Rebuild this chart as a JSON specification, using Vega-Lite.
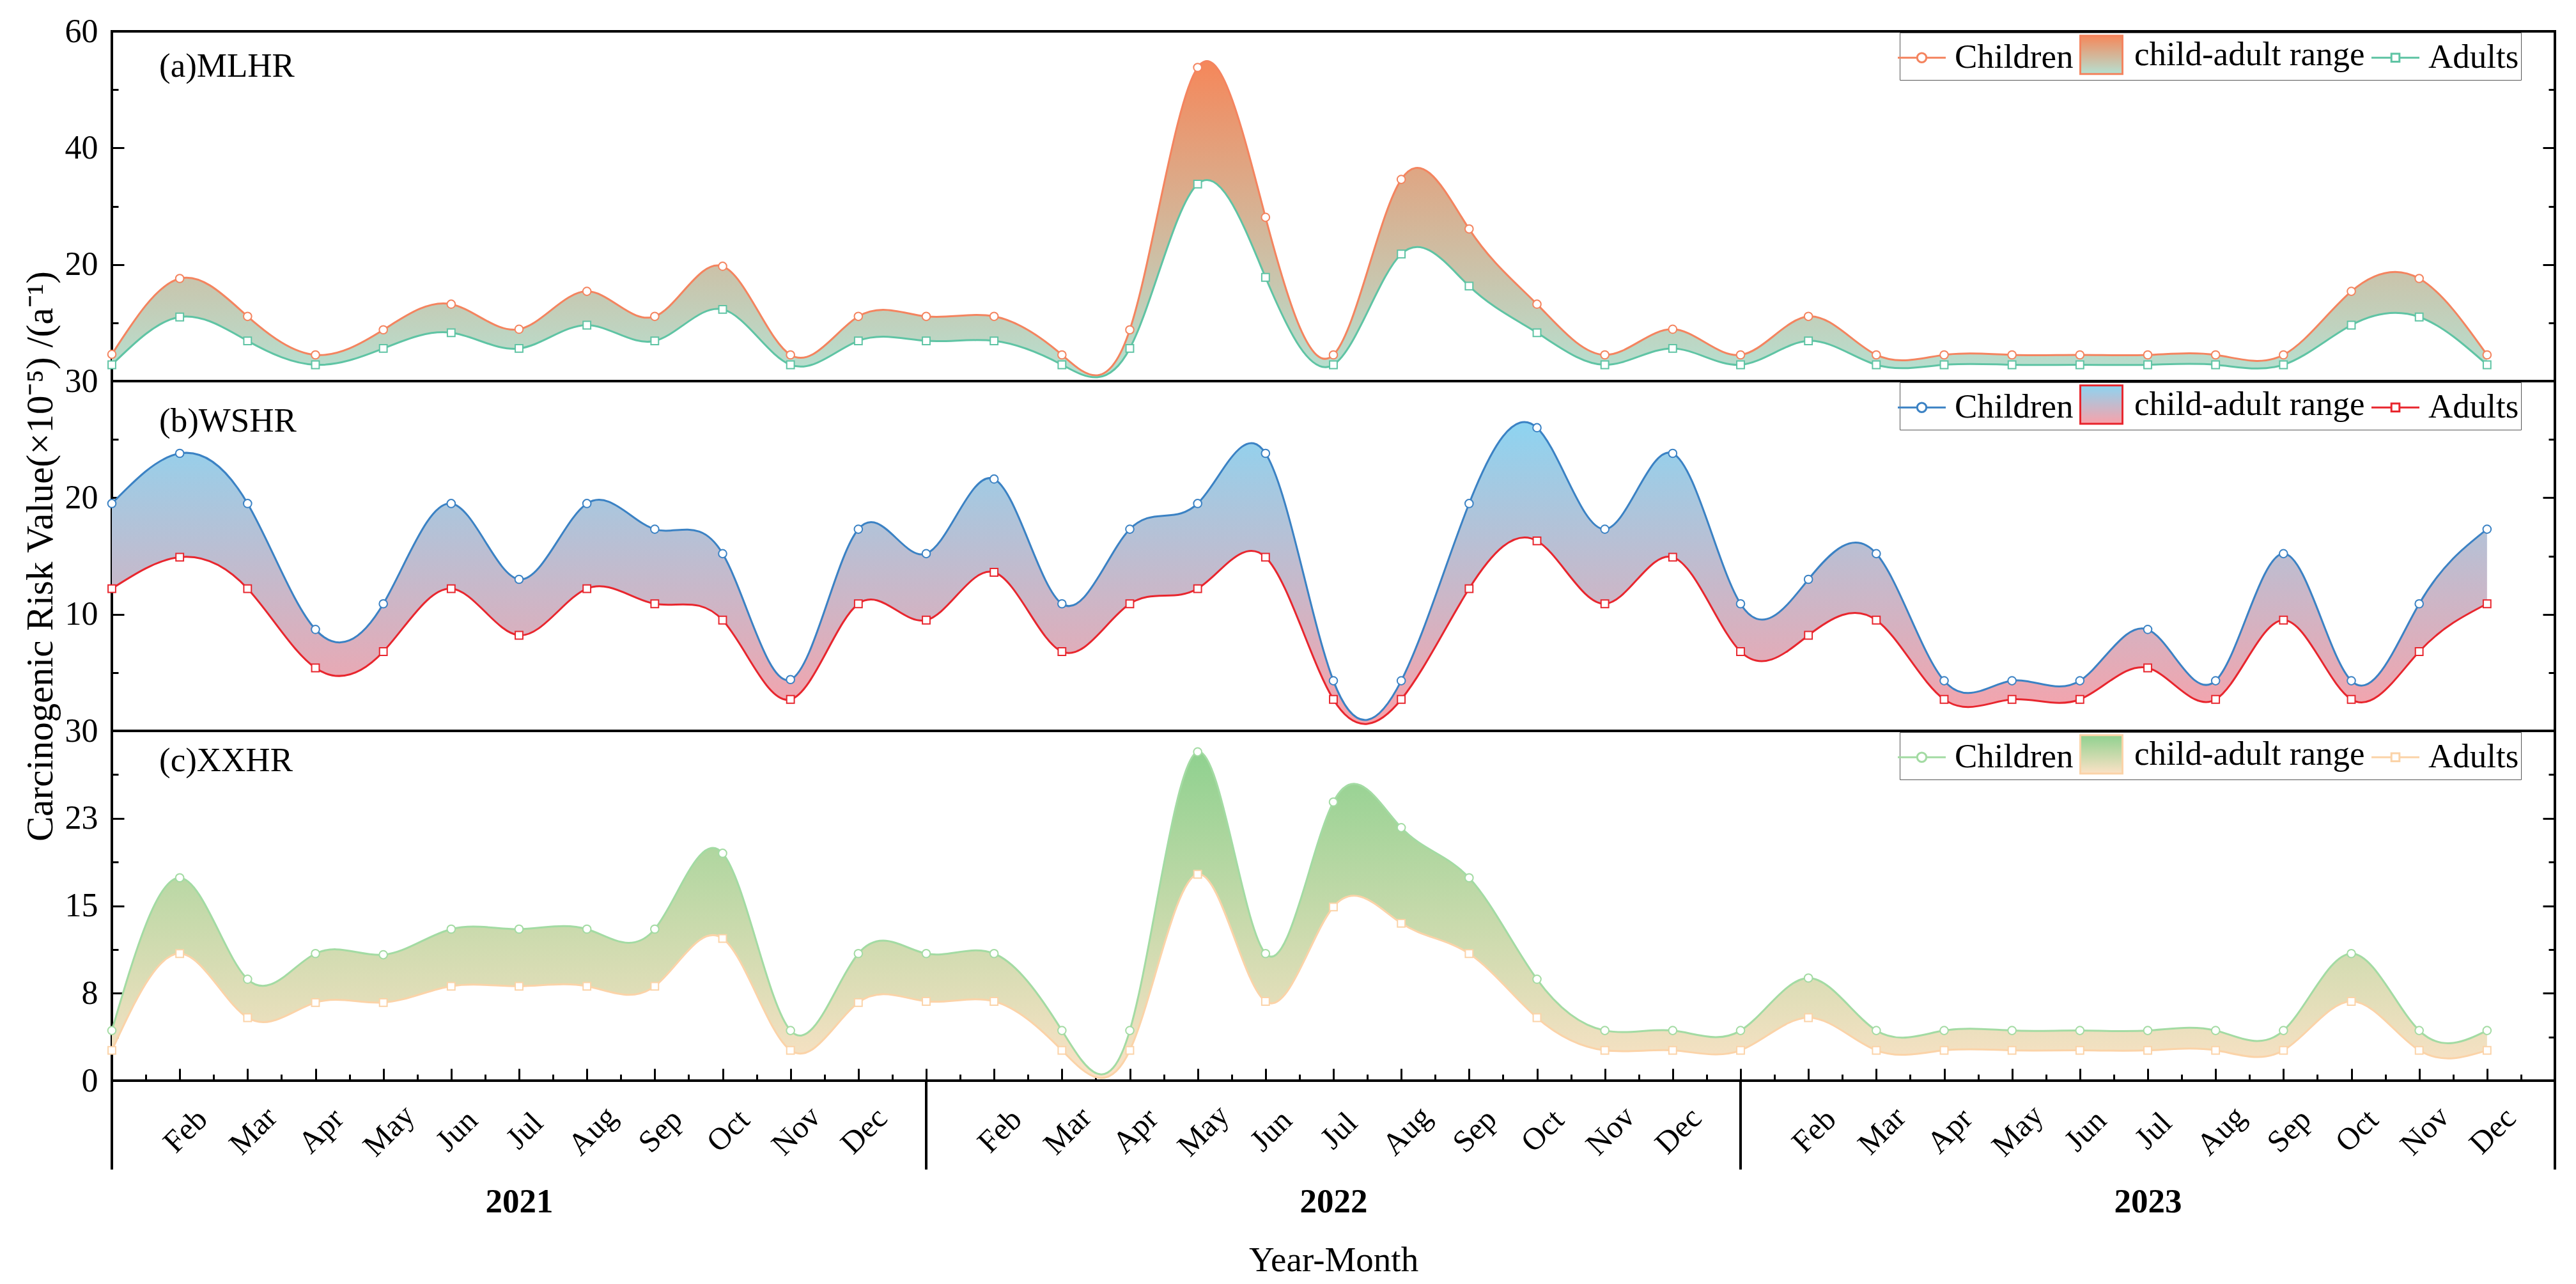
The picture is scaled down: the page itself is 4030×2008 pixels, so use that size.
{
  "$schema": "https://vega.github.io/schema/vega-lite/v6.json",
  "padding": {"left": 31, "top": 21, "right": 26, "bottom": 5},
  "spacing": 0,
  "bounds": "flush",
  "datasets": {
    "mlhr": [
      {"ym": "2021-01", "Children": 4.6, "Adults": 2.8},
      {"ym": "2021-02", "Children": 17.6, "Adults": 11.0},
      {"ym": "2021-03", "Children": 11.1, "Adults": 6.9},
      {"ym": "2021-04", "Children": 4.5, "Adults": 2.8},
      {"ym": "2021-05", "Children": 8.8, "Adults": 5.6},
      {"ym": "2021-06", "Children": 13.2, "Adults": 8.3},
      {"ym": "2021-07", "Children": 8.9, "Adults": 5.6},
      {"ym": "2021-08", "Children": 15.4, "Adults": 9.6},
      {"ym": "2021-09", "Children": 11.1, "Adults": 6.9},
      {"ym": "2021-10", "Children": 19.7, "Adults": 12.3},
      {"ym": "2021-11", "Children": 4.5, "Adults": 2.8},
      {"ym": "2021-12", "Children": 11.1, "Adults": 6.9},
      {"ym": "2022-01", "Children": 11.1, "Adults": 6.9},
      {"ym": "2022-02", "Children": 11.1, "Adults": 6.9},
      {"ym": "2022-03", "Children": 4.5, "Adults": 2.8},
      {"ym": "2022-04", "Children": 8.8, "Adults": 5.6},
      {"ym": "2022-05", "Children": 53.8, "Adults": 33.8},
      {"ym": "2022-06", "Children": 28.1, "Adults": 17.8},
      {"ym": "2022-07", "Children": 4.5, "Adults": 2.8},
      {"ym": "2022-08", "Children": 34.6, "Adults": 21.8},
      {"ym": "2022-09", "Children": 26.1, "Adults": 16.3},
      {"ym": "2022-10", "Children": 13.2, "Adults": 8.3},
      {"ym": "2022-11", "Children": 4.5, "Adults": 2.8},
      {"ym": "2022-12", "Children": 8.9, "Adults": 5.6},
      {"ym": "2023-01", "Children": 4.5, "Adults": 2.8},
      {"ym": "2023-02", "Children": 11.1, "Adults": 6.9},
      {"ym": "2023-03", "Children": 4.5, "Adults": 2.8},
      {"ym": "2023-04", "Children": 4.5, "Adults": 2.8},
      {"ym": "2023-05", "Children": 4.5, "Adults": 2.8},
      {"ym": "2023-06", "Children": 4.5, "Adults": 2.8},
      {"ym": "2023-07", "Children": 4.5, "Adults": 2.8},
      {"ym": "2023-08", "Children": 4.5, "Adults": 2.8},
      {"ym": "2023-09", "Children": 4.5, "Adults": 2.8},
      {"ym": "2023-10", "Children": 15.4, "Adults": 9.6},
      {"ym": "2023-11", "Children": 17.6, "Adults": 11.0},
      {"ym": "2023-12", "Children": 4.5, "Adults": 2.8}
    ],
    "wshr": [
      {"ym": "2021-01", "Children": 19.5, "Adults": 12.2},
      {"ym": "2021-02", "Children": 23.8, "Adults": 14.9},
      {"ym": "2021-03", "Children": 19.5, "Adults": 12.2},
      {"ym": "2021-04", "Children": 8.7, "Adults": 5.4},
      {"ym": "2021-05", "Children": 10.9, "Adults": 6.8},
      {"ym": "2021-06", "Children": 19.5, "Adults": 12.2},
      {"ym": "2021-07", "Children": 13.0, "Adults": 8.2},
      {"ym": "2021-08", "Children": 19.5, "Adults": 12.2},
      {"ym": "2021-09", "Children": 17.3, "Adults": 10.9},
      {"ym": "2021-10", "Children": 15.2, "Adults": 9.5},
      {"ym": "2021-11", "Children": 4.4, "Adults": 2.7},
      {"ym": "2021-12", "Children": 17.3, "Adults": 10.9},
      {"ym": "2022-01", "Children": 15.2, "Adults": 9.5},
      {"ym": "2022-02", "Children": 21.6, "Adults": 13.6},
      {"ym": "2022-03", "Children": 10.9, "Adults": 6.8},
      {"ym": "2022-04", "Children": 17.3, "Adults": 10.9},
      {"ym": "2022-05", "Children": 19.5, "Adults": 12.2},
      {"ym": "2022-06", "Children": 23.8, "Adults": 14.9},
      {"ym": "2022-07", "Children": 4.3, "Adults": 2.7},
      {"ym": "2022-08", "Children": 4.3, "Adults": 2.7},
      {"ym": "2022-09", "Children": 19.5, "Adults": 12.2},
      {"ym": "2022-10", "Children": 26.0, "Adults": 16.3},
      {"ym": "2022-11", "Children": 17.3, "Adults": 10.9},
      {"ym": "2022-12", "Children": 23.8, "Adults": 14.9},
      {"ym": "2023-01", "Children": 10.9, "Adults": 6.8},
      {"ym": "2023-02", "Children": 13.0, "Adults": 8.2},
      {"ym": "2023-03", "Children": 15.2, "Adults": 9.5},
      {"ym": "2023-04", "Children": 4.3, "Adults": 2.7},
      {"ym": "2023-05", "Children": 4.3, "Adults": 2.7},
      {"ym": "2023-06", "Children": 4.3, "Adults": 2.7},
      {"ym": "2023-07", "Children": 8.7, "Adults": 5.4},
      {"ym": "2023-08", "Children": 4.3, "Adults": 2.7},
      {"ym": "2023-09", "Children": 15.2, "Adults": 9.5},
      {"ym": "2023-10", "Children": 4.3, "Adults": 2.7},
      {"ym": "2023-11", "Children": 10.9, "Adults": 6.8},
      {"ym": "2023-12", "Children": 17.3, "Adults": 10.9}
    ],
    "xxhr": [
      {"ym": "2021-01", "Children": 4.3, "Adults": 2.6},
      {"ym": "2021-02", "Children": 17.4, "Adults": 10.9},
      {"ym": "2021-03", "Children": 8.7, "Adults": 5.4},
      {"ym": "2021-04", "Children": 10.9, "Adults": 6.7},
      {"ym": "2021-05", "Children": 10.8, "Adults": 6.7},
      {"ym": "2021-06", "Children": 13.0, "Adults": 8.1},
      {"ym": "2021-07", "Children": 13.0, "Adults": 8.1},
      {"ym": "2021-08", "Children": 13.0, "Adults": 8.1},
      {"ym": "2021-09", "Children": 13.0, "Adults": 8.1},
      {"ym": "2021-10", "Children": 19.5, "Adults": 12.2},
      {"ym": "2021-11", "Children": 4.3, "Adults": 2.6},
      {"ym": "2021-12", "Children": 10.9, "Adults": 6.7},
      {"ym": "2022-01", "Children": 10.9, "Adults": 6.8},
      {"ym": "2022-02", "Children": 10.9, "Adults": 6.8},
      {"ym": "2022-03", "Children": 4.3, "Adults": 2.6},
      {"ym": "2022-04", "Children": 4.3, "Adults": 2.6},
      {"ym": "2022-05", "Children": 28.2, "Adults": 17.7},
      {"ym": "2022-06", "Children": 10.9, "Adults": 6.8},
      {"ym": "2022-07", "Children": 23.9, "Adults": 14.9},
      {"ym": "2022-08", "Children": 21.7, "Adults": 13.5},
      {"ym": "2022-09", "Children": 17.4, "Adults": 10.9},
      {"ym": "2022-10", "Children": 8.7, "Adults": 5.4},
      {"ym": "2022-11", "Children": 4.3, "Adults": 2.6},
      {"ym": "2022-12", "Children": 4.3, "Adults": 2.6},
      {"ym": "2023-01", "Children": 4.3, "Adults": 2.6},
      {"ym": "2023-02", "Children": 8.8, "Adults": 5.4},
      {"ym": "2023-03", "Children": 4.3, "Adults": 2.6},
      {"ym": "2023-04", "Children": 4.3, "Adults": 2.6},
      {"ym": "2023-05", "Children": 4.3, "Adults": 2.6},
      {"ym": "2023-06", "Children": 4.3, "Adults": 2.6},
      {"ym": "2023-07", "Children": 4.3, "Adults": 2.6},
      {"ym": "2023-08", "Children": 4.3, "Adults": 2.6},
      {"ym": "2023-09", "Children": 4.3, "Adults": 2.6},
      {"ym": "2023-10", "Children": 10.9, "Adults": 6.8},
      {"ym": "2023-11", "Children": 4.3, "Adults": 2.6},
      {"ym": "2023-12", "Children": 4.3, "Adults": 2.6}
    ],
    "years": [
      {"year": 2021},
      {"year": 2022},
      {"year": 2023},
      {"year": 2024}
    ]
  },
  "vconcat": [
    {
      "width": 3822,
      "height": 547,
      "data": {"name": "mlhr"},
      "transform": [
        {"calculate": "(toNumber(slice(datum.ym, 0, 4)) - 2021) * 12 + toNumber(slice(datum.ym, 5, 7)) - 1", "as": "t"}
      ],
      "title": {"text": "(a)MLHR", "anchor": "start", "frame": "group", "orient": "top", "offset": -150, "dx": 74, "baseline": "alphabetic"},
      "encoding": {
        "x": {"field": "t", "type": "quantitative", "scale": {"domain": [0, 36], "nice": false, "zero": false}, "axis": null}
      },
      "layer": [
        {
          "layer": [
            {
              "mark": {"type": "area", "interpolate": "natural",
                "fill": {"gradient": "linear", "x1": 0, "y1": 0, "x2": 0, "y2": 1,
                  "stops": [{"offset": 0, "color": "#F5875A"}, {"offset": 1, "color": "#B5E1D2"}]}},
              "encoding": {
                "y": {"field": "Children", "type": "quantitative", "scale": {"domain": [0, 60], "nice": false},
                  "axis": {"orient": "left", "title": null, "values": [0, 10, 20, 30, 40, 50, 60],
                    "labelExpr": "datum.value % 20 === 0 && datum.value > 0 ? datum.label : ''",
                    "tickSize": {"condition": {"test": "datum.value % 20 === 0", "value": -19}, "value": -10},
                    "labelPadding": 41}},
                "y2": {"field": "Adults"}
              }
            },
            {
              "transform": [{"fold": ["Children", "Adults"], "as": ["series", "value"]}],
              "mark": {"type": "line", "interpolate": "natural", "strokeWidth": 3},
              "encoding": {
                "y": {"field": "value", "type": "quantitative", "scale": {"domain": [0, 60], "nice": false},
                  "axis": {"orient": "left", "title": null, "values": [0, 10, 20, 30, 40, 50, 60],
                    "labelExpr": "datum.value % 20 === 0 && datum.value > 0 ? datum.label : ''",
                    "tickSize": {"condition": {"test": "datum.value % 20 === 0", "value": -19}, "value": -10},
                    "labelPadding": 41}},
                "stroke": {"field": "series", "type": "nominal",
                  "scale": {"domain": ["Children", "child-adult range", "Adults"], "range": ["#F4845F", "#F4845F", "#5FC4A4"]},
                  "legend": {"orient": "none", "legendX": 2797, "legendY": 2, "direction": "horizontal", "title": null,
                    "encode": {"symbols": {"update": {
                      "shape": [
                        {"test": "datum.value === 'Children'", "value": "M-1.25,0H-0.24M0.24,0H1.25M0.24,0A0.24,0.24,0,1,1,-0.24,0A0.24,0.24,0,1,1,0.24,0Z"},
                        {"test": "datum.value === 'Adults'", "value": "M-1.25,0H-0.21M0.21,0H1.25M-0.21,-0.21H0.21V0.21H-0.21Z"},
                        {"value": "M-1.1,-1H1.1V1H-1.1Z"}],
                      "fill": [
                        {"test": "datum.value === 'child-adult range'",
                          "value": {"gradient": "linear", "x1": 0, "y1": 0, "x2": 0, "y2": 1,
                            "stops": [{"offset": 0, "color": "#F5875A"}, {"offset": 1, "color": "#B5E1D2"}]}},
                        {"value": "white"}]
                    }}}}
                }
              }
            },
            {
              "mark": {"type": "point", "shape": "square", "filled": true, "fill": "white", "stroke": "#5FC4A4", "strokeWidth": 2, "size": 140, "opacity": 1},
              "encoding": {
                "y": {"field": "Adults", "type": "quantitative", "scale": {"domain": [0, 60], "nice": false},
                  "axis": {"orient": "left", "title": null, "values": [0, 10, 20, 30, 40, 50, 60],
                    "labelExpr": "datum.value % 20 === 0 && datum.value > 0 ? datum.label : ''",
                    "tickSize": {"condition": {"test": "datum.value % 20 === 0", "value": -19}, "value": -10},
                    "labelPadding": 41}}
              }
            }
          ]
        },
        {
          "mark": {"type": "point", "shape": "circle", "filled": true, "fill": "white", "stroke": "#F4845F", "strokeWidth": 2, "size": 160, "opacity": 1},
          "encoding": {
            "y": {"field": "Children", "type": "quantitative", "scale": {"domain": [0, 60], "nice": false},
              "axis": {"orient": "right", "title": null, "labels": false, "values": [0, 10, 20, 30, 40, 50, 60],
                "tickSize": {"condition": {"test": "datum.value % 20 === 0", "value": -19}, "value": -10}}}
          }
        }
      ],
      "resolve": {"scale": {"y": "independent"}}
    },
    {
      "width": 3822,
      "height": 547,
      "data": {"name": "wshr"},
      "transform": [
        {"calculate": "(toNumber(slice(datum.ym, 0, 4)) - 2021) * 12 + toNumber(slice(datum.ym, 5, 7)) - 1", "as": "t"}
      ],
      "title": {"text": "(b)WSHR", "anchor": "start", "frame": "group", "orient": "top", "offset": -305, "dx": 74, "baseline": "alphabetic"},
      "encoding": {
        "x": {"field": "t", "type": "quantitative", "scale": {"domain": [0, 36], "nice": false, "zero": false}, "axis": null}
      },
      "layer": [
        {
          "layer": [
            {
              "mark": {"type": "area", "interpolate": "natural",
                "fill": {"gradient": "linear", "x1": 0, "y1": 0, "x2": 0, "y2": 1,
                  "stops": [{"offset": 0, "color": "#8DD4F1"}, {"offset": 1, "color": "#F9A1A9"}]}},
              "encoding": {
                "y": {"field": "Children", "type": "quantitative", "scale": {"domain": [0, 30], "nice": false},
                  "axis": {"orient": "left", "title": "Carcinogenic Risk Value(×10⁻⁵) /(a⁻¹)", "titleFontSize": 59, "titlePadding": 8,
                    "values": [0, 5, 10, 15, 20, 25, 30],
                    "labelExpr": "datum.value % 10 === 0 && datum.value > 0 ? datum.label : ''",
                    "tickSize": {"condition": {"test": "datum.value % 10 === 0", "value": -19}, "value": -10},
                    "labelPadding": 41}},
                "y2": {"field": "Adults"}
              }
            },
            {
              "transform": [{"fold": ["Children", "Adults"], "as": ["series", "value"]}],
              "mark": {"type": "line", "interpolate": "natural", "strokeWidth": 3},
              "encoding": {
                "y": {"field": "value", "type": "quantitative", "scale": {"domain": [0, 30], "nice": false},
                  "axis": {"orient": "left", "title": "Carcinogenic Risk Value(×10⁻⁵) /(a⁻¹)", "titleFontSize": 59, "titlePadding": 8,
                    "values": [0, 5, 10, 15, 20, 25, 30],
                    "labelExpr": "datum.value % 10 === 0 && datum.value > 0 ? datum.label : ''",
                    "tickSize": {"condition": {"test": "datum.value % 10 === 0", "value": -19}, "value": -10},
                    "labelPadding": 41}},
                "stroke": {"field": "series", "type": "nominal",
                  "scale": {"domain": ["Children", "child-adult range", "Adults"], "range": ["#3B82C4", "#E8262E", "#E8262E"]},
                  "legend": {"orient": "none", "legendX": 2797, "legendY": 2, "direction": "horizontal", "title": null,
                    "encode": {"symbols": {"update": {
                      "shape": [
                        {"test": "datum.value === 'Children'", "value": "M-1.25,0H-0.24M0.24,0H1.25M0.24,0A0.24,0.24,0,1,1,-0.24,0A0.24,0.24,0,1,1,0.24,0Z"},
                        {"test": "datum.value === 'Adults'", "value": "M-1.25,0H-0.21M0.21,0H1.25M-0.21,-0.21H0.21V0.21H-0.21Z"},
                        {"value": "M-1.1,-1H1.1V1H-1.1Z"}],
                      "fill": [
                        {"test": "datum.value === 'child-adult range'",
                          "value": {"gradient": "linear", "x1": 0, "y1": 0, "x2": 0, "y2": 1,
                            "stops": [{"offset": 0, "color": "#8DD4F1"}, {"offset": 1, "color": "#F9A1A9"}]}},
                        {"value": "white"}]
                    }}}}
                }
              }
            },
            {
              "mark": {"type": "point", "shape": "square", "filled": true, "fill": "white", "stroke": "#E8262E", "strokeWidth": 2, "size": 140, "opacity": 1},
              "encoding": {
                "y": {"field": "Adults", "type": "quantitative", "scale": {"domain": [0, 30], "nice": false},
                  "axis": {"orient": "left", "title": "Carcinogenic Risk Value(×10⁻⁵) /(a⁻¹)", "titleFontSize": 59, "titlePadding": 8,
                    "values": [0, 5, 10, 15, 20, 25, 30],
                    "labelExpr": "datum.value % 10 === 0 && datum.value > 0 ? datum.label : ''",
                    "tickSize": {"condition": {"test": "datum.value % 10 === 0", "value": -19}, "value": -10},
                    "labelPadding": 41}}
              }
            }
          ]
        },
        {
          "mark": {"type": "point", "shape": "circle", "filled": true, "fill": "white", "stroke": "#3B82C4", "strokeWidth": 2, "size": 160, "opacity": 1},
          "encoding": {
            "y": {"field": "Children", "type": "quantitative", "scale": {"domain": [0, 30], "nice": false},
              "axis": {"orient": "right", "title": null, "labels": false, "values": [0, 5, 10, 15, 20, 25, 30],
                "tickSize": {"condition": {"test": "datum.value % 10 === 0", "value": -19}, "value": -10}}}
          }
        }
      ],
      "resolve": {"scale": {"y": "independent"}}
    },
    {
      "width": 3822,
      "height": 547,
      "data": {"name": "xxhr"},
      "transform": [
        {"calculate": "(toNumber(slice(datum.ym, 0, 4)) - 2021) * 12 + toNumber(slice(datum.ym, 5, 7)) - 1", "as": "t"}
      ],
      "title": {"text": "(c)XXHR", "anchor": "start", "frame": "group", "orient": "top", "offset": -142, "dx": 74, "baseline": "alphabetic"},
      "encoding": {
        "x": {"field": "t", "type": "quantitative", "scale": {"domain": [0, 36], "nice": false, "zero": false},
          "axis": {"orient": "bottom", "title": null, "labels": false, "tickCount": 72,
            "tickSize": {"condition": {"test": "datum.value % 1 === 0", "value": -19}, "value": -10}}}
      },
      "layer": [
        {
          "layer": [
            {
              "mark": {"type": "area", "interpolate": "natural",
                "fill": {"gradient": "linear", "x1": 0, "y1": 0, "x2": 0, "y2": 1,
                  "stops": [{"offset": 0, "color": "#8FD18F"}, {"offset": 1, "color": "#FCE2C6"}]}},
              "encoding": {
                "y": {"field": "Children", "type": "quantitative", "scale": {"domain": [0, 30], "nice": false},
                  "axis": {"orient": "left", "title": null, "format": ".0f",
                    "values": [0, 3.75, 7.5, 11.25, 15, 18.75, 22.5, 26.25, 30],
                    "labelExpr": "datum.value % 7.5 === 0 ? datum.label : ''",
                    "tickSize": {"condition": {"test": "datum.value % 7.5 === 0", "value": -19}, "value": -10},
                    "labelPadding": 41}},
                "y2": {"field": "Adults"}
              }
            },
            {
              "transform": [{"fold": ["Children", "Adults"], "as": ["series", "value"]}],
              "mark": {"type": "line", "interpolate": "natural", "strokeWidth": 3},
              "encoding": {
                "y": {"field": "value", "type": "quantitative", "scale": {"domain": [0, 30], "nice": false},
                  "axis": {"orient": "left", "title": null, "format": ".0f",
                    "values": [0, 3.75, 7.5, 11.25, 15, 18.75, 22.5, 26.25, 30],
                    "labelExpr": "datum.value % 7.5 === 0 ? datum.label : ''",
                    "tickSize": {"condition": {"test": "datum.value % 7.5 === 0", "value": -19}, "value": -10},
                    "labelPadding": 41}},
                "stroke": {"field": "series", "type": "nominal",
                  "scale": {"domain": ["Children", "child-adult range", "Adults"], "range": ["#A3DBA3", "#FBD3A8", "#FBD3A8"]},
                  "legend": {"orient": "none", "legendX": 2797, "legendY": 2, "direction": "horizontal", "title": null,
                    "encode": {"symbols": {"update": {
                      "shape": [
                        {"test": "datum.value === 'Children'", "value": "M-1.25,0H-0.24M0.24,0H1.25M0.24,0A0.24,0.24,0,1,1,-0.24,0A0.24,0.24,0,1,1,0.24,0Z"},
                        {"test": "datum.value === 'Adults'", "value": "M-1.25,0H-0.21M0.21,0H1.25M-0.21,-0.21H0.21V0.21H-0.21Z"},
                        {"value": "M-1.1,-1H1.1V1H-1.1Z"}],
                      "fill": [
                        {"test": "datum.value === 'child-adult range'",
                          "value": {"gradient": "linear", "x1": 0, "y1": 0, "x2": 0, "y2": 1,
                            "stops": [{"offset": 0, "color": "#8FD18F"}, {"offset": 1, "color": "#FCE2C6"}]}},
                        {"value": "white"}]
                    }}}}
                }
              }
            },
            {
              "mark": {"type": "point", "shape": "square", "filled": true, "fill": "white", "stroke": "#FBD3A8", "strokeWidth": 2, "size": 140, "opacity": 1},
              "encoding": {
                "y": {"field": "Adults", "type": "quantitative", "scale": {"domain": [0, 30], "nice": false},
                  "axis": {"orient": "left", "title": null, "format": ".0f",
                    "values": [0, 3.75, 7.5, 11.25, 15, 18.75, 22.5, 26.25, 30],
                    "labelExpr": "datum.value % 7.5 === 0 ? datum.label : ''",
                    "tickSize": {"condition": {"test": "datum.value % 7.5 === 0", "value": -19}, "value": -10},
                    "labelPadding": 41}}
              }
            }
          ]
        },
        {
          "mark": {"type": "point", "shape": "circle", "filled": true, "fill": "white", "stroke": "#A3DBA3", "strokeWidth": 2, "size": 160, "opacity": 1},
          "encoding": {
            "y": {"field": "Children", "type": "quantitative", "scale": {"domain": [0, 30], "nice": false},
              "axis": {"orient": "right", "title": null, "labels": false,
                "values": [0, 3.75, 7.5, 11.25, 15, 18.75, 22.5, 26.25, 30],
                "tickSize": {"condition": {"test": "datum.value % 7.5 === 0", "value": -19}, "value": -10}}}
          }
        }
      ],
      "resolve": {"scale": {"y": "independent"}}
    },
    {
      "width": 3822,
      "height": 139,
      "view": {"stroke": null},
      "encoding": {
        "x": {"field": "t", "type": "quantitative", "scale": {"domain": [0, 36], "nice": false, "zero": false},
          "axis": {"orient": "bottom", "values": [6, 18, 30], "labelExpr": "'' + (2021 + floor(datum.value / 12))",
            "labelFontWeight": "bold", "labelFontSize": 53, "labelFlush": false, "ticks": false, "domain": false,
            "labelPadding": 24, "title": "Year-Month", "titleFontSize": 55, "titlePadding": 38}}
      },
      "layer": [
        {
          "data": {"name": "years"},
          "transform": [{"calculate": "(datum.year - 2021) * 12", "as": "t"}],
          "mark": {"type": "rule", "strokeWidth": 4, "color": "black"}
        },
        {
          "data": {"name": "mlhr"},
          "transform": [
            {"calculate": "(toNumber(slice(datum.ym, 0, 4)) - 2021) * 12 + toNumber(slice(datum.ym, 5, 7)) - 1", "as": "t"},
            {"filter": "datum.t % 12 !== 0"},
            {"calculate": "utcFormat(toDate(datum.ym + '-01'), '%b')", "as": "mon"}
          ],
          "mark": {"type": "text", "angle": -45, "fontSize": 49, "dy": 13, "align": "center", "baseline": "middle", "color": "black"},
          "encoding": {
            "text": {"field": "mon"}
          }
        }
      ]
    }
  ],
  "resolve": {"scale": {"stroke": "independent"}, "legend": {"stroke": "independent"}},
  "config": {
    "font": "Liberation Serif",
    "view": {"stroke": "black", "strokeWidth": 4},
    "axis": {"grid": false, "domain": false, "labelFont": "Liberation Serif", "labelFontSize": 52, "labelColor": "black",
      "tickColor": "black", "tickWidth": 3, "titleFont": "Liberation Serif", "titleColor": "black", "titleFontWeight": "normal"},
    "legend": {"labelFont": "Liberation Serif", "labelFontSize": 53, "labelColor": "black", "symbolSize": 3600,
      "symbolStrokeWidth": 3, "labelOffset": 20, "columnPadding": 4, "padding": 3, "strokeColor": "#555555",
      "fillColor": "white", "labelLimit": 0},
    "title": {"font": "Liberation Serif", "fontSize": 53, "fontWeight": "normal", "color": "black"},
    "text": {"font": "Liberation Serif"}
  }
}
